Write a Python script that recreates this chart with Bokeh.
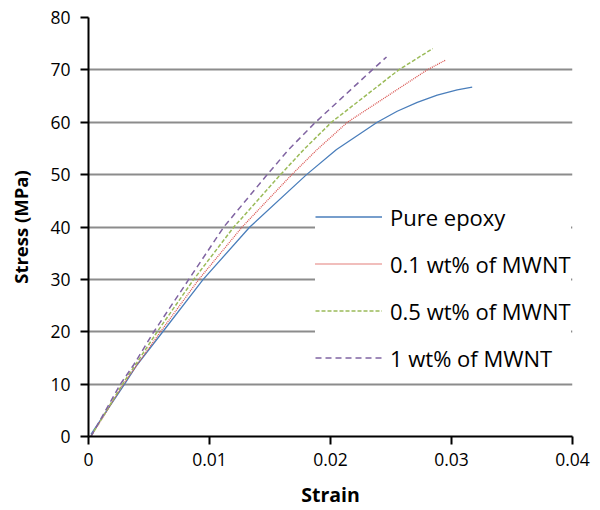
from bokeh.plotting import figure
from bokeh.models import Range1d, FixedTicker, Legend, LegendItem
from bokeh.embed import file_html
from bokeh.resources import INLINE

x_ticks = [0, 0.01, 0.02, 0.03, 0.04]
x_tick_labels = ["0", "0.01", "0.02", "0.03", "0.04"]
y_ticks = [0, 10, 20, 30, 40, 50, 60, 70, 80]

series_names = ["Pure epoxy", "0.1 wt% of MWNT", "0.5 wt% of MWNT", "1 wt% of MWNT"]

pure_strain = [0.0002, 0.00298, 0.00402, 0.00614, 0.00948, 0.01333, 0.01802, 0.0205, 0.02386,
               0.02551, 0.02717, 0.02882, 0.03047, 0.03171]
pure_stress = [0.4, 10, 13.7, 20, 30, 40, 50, 54.8, 60, 62.1, 63.8, 65.2, 66.2, 66.7]

mw01_strain = [0.0002, 0.00289, 0.00402, 0.00595, 0.00912, 0.0127, 0.0168, 0.0189, 0.0214, 0.02799, 0.0295]
mw01_stress = [0, 10, 13.7, 20, 30, 40, 50, 54.8, 60, 70, 71.85]

mw05_strain = [0.0002, 0.00281, 0.00388, 0.00568, 0.0087, 0.01201, 0.01587, 0.0178, 0.02008, 0.02564, 0.02845]
mw05_stress = [0, 10, 13.7, 20, 30, 40, 50, 54.8, 60, 70, 74.07]

mw1_strain = [0.0002, 0.00264, 0.00374, 0.0054, 0.00829, 0.01118, 0.01477, 0.01655, 0.01876, 0.02345, 0.02463]
mw1_stress = [0, 10, 13.7, 20, 30, 40, 50, 54.8, 60, 70, 72.47]

FONT = "Open Sans"

p = figure(width=600, height=510, output_backend="svg", toolbar_location=None,
           x_range=Range1d(0, 0.04), y_range=Range1d(0, 80),
           min_border_left=88, min_border_right=28, min_border_top=17, min_border_bottom=71)
p.outline_line_color = None
p.background_fill_color = "white"
p.border_fill_color = "white"

p.xgrid.visible = False
p.ygrid.ticker = FixedTicker(ticks=y_ticks)
p.ygrid.grid_line_color = "#8c8c8c"
p.ygrid.grid_line_width = 2

for ax in (p.xaxis[0], p.yaxis[0]):
    ax.axis_line_color = "black"
    ax.axis_line_width = 2
    ax.major_tick_line_color = "black"
    ax.major_tick_line_width = 2
    ax.major_tick_out = 8
    ax.major_tick_in = 0
    ax.minor_tick_line_color = None
    ax.major_label_text_font = FONT
    ax.major_label_text_font_size = "17.5px"
    ax.major_label_text_color = "black"
    ax.axis_label_text_font = FONT
    ax.axis_label_text_font_style = "bold"
    ax.axis_label_text_color = "black"

p.xaxis.axis_label_text_font_size = "19.5px"
p.yaxis.axis_label_text_font_size = "18.5px"
p.xaxis.ticker = FixedTicker(ticks=x_ticks)
p.xaxis.major_label_overrides = {t: l for t, l in zip(x_ticks, x_tick_labels)}
p.yaxis.ticker = FixedTicker(ticks=y_ticks)
p.xaxis.axis_label = "Strain"
p.yaxis.axis_label = "Stress (MPa)"
p.xaxis.major_label_standoff = 8
p.yaxis.major_label_standoff = 10
p.xaxis.axis_label_standoff = 12
p.yaxis.axis_label_standoff = 14

r1 = p.line(pure_strain, pure_stress, line_color="#4a7ebb", line_width=1.3)
r2 = p.line(mw01_strain, mw01_stress, line_color="#d9534f", line_width=1.3, line_dash="1 1")
r3 = p.line(mw05_strain, mw05_stress, line_color="#9bbb59", line_width=1.5, line_dash="4 2")
r4 = p.line(mw1_strain, mw1_stress, line_color="#8064a2", line_width=1.5, line_dash="6 4")

legend = Legend(items=[LegendItem(label=n, renderers=[r]) for n, r in zip(series_names, [r1, r2, r3, r4])],
                location=(227, 63))
legend.background_fill_color = "white"
legend.background_fill_alpha = 1.0
legend.border_line_color = None
legend.padding = 12
legend.margin = 0
legend.spacing = 16
legend.glyph_width = 67
legend.glyph_height = 31
legend.label_height = 31
legend.label_standoff = 8
legend.label_text_font = FONT
legend.label_text_font_size = "22px"
legend.label_text_color = "black"
p.add_layout(legend)

open("out.html", "w").write(file_html(p, INLINE))
